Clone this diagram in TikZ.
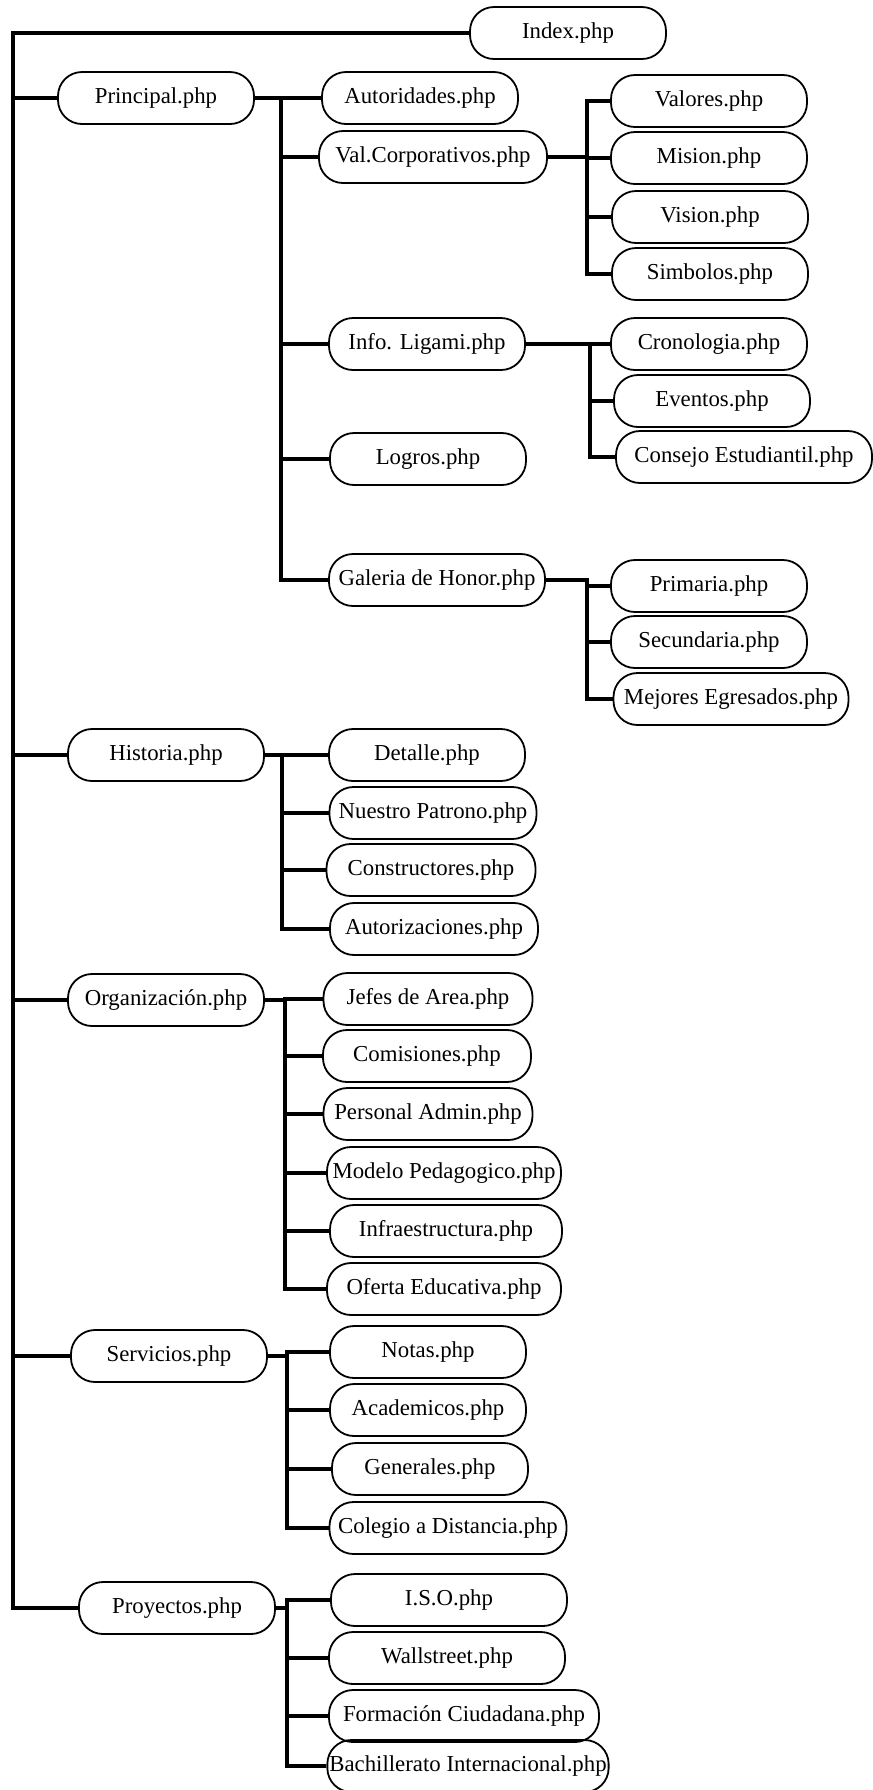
\documentclass[tikz,border=0pt]{standalone}
\usepackage{fontspec}
\setmainfont{Liberation Serif}
\usepackage{tikz}

\begin{document}
\begin{tikzpicture}[x=0.5pt,y=-0.5pt,
  page/.style={draw, rectangle, rounded corners=12pt, minimum width=98pt, minimum height=26pt, inner sep=1pt, line width=0.9pt, font=\fontsize{11.4}{13}\selectfont},
  link/.style={line width=1.6pt}]
\useasboundingbox (0,0) rectangle (873,1790);

\node[page](idx) at (568,33) {Index.php};

\node[page](pri) at (156,98) {Principal.php};
\node[page](aut) at (420,98) {Autoridades.php};
\node[page, minimum width=114pt](val) at (433,157) {Val.Corporativos.php};
\node[page](vlr) at (709,101) {Valores.php};
\node[page](mis) at (709,158) {Mision.php};
\node[page](vis) at (710,217) {Vision.php};
\node[page](sim) at (710,274) {Simbolos.php};
\node[page](inf) at (427,344) {Info. Ligami.php};
\node[page](cro) at (709,344) {Cronologia.php};
\node[page](eve) at (712,401) {Eventos.php};
\node[page, minimum width=128pt](cons) at (744,457) {Consejo Estudiantil.php};
\node[page](log) at (428,459) {Logros.php};
\node[page, minimum width=108pt](gal) at (437,580) {Galeria de Honor.php};
\node[page](prim) at (709,586) {Primaria.php};
\node[page](sec) at (709,642) {Secundaria.php};
\node[page, minimum width=117.5pt](mej) at (731,699) {Mejores Egresados.php};

\node[page](his) at (166,755) {Historia.php};
\node[page](det) at (427,755) {Detalle.php};
\node[page, minimum width=103.5pt](nue) at (433,813) {Nuestro Patrono.php};
\node[page, minimum width=104.5pt](ctr) at (431,870) {Constructores.php};
\node[page, minimum width=104pt](atz) at (434,929) {Autorizaciones.php};

\node[page](org) at (166,1000) {Organización.php};
\node[page, minimum width=104.5pt](jef) at (428,999) {Jefes de Area.php};
\node[page, minimum width=104pt](com) at (427,1056) {Comisiones.php};
\node[page, minimum width=104.5pt](per) at (428,1114) {Personal Admin.php};
\node[page, minimum width=117pt](mod) at (444,1173) {Modelo Pedagogico.php};
\node[page, minimum width=116pt](ifr) at (446,1231) {Infraestructura.php};
\node[page, minimum width=117pt](ofe) at (444,1289) {Oferta Educativa.php};

\node[page](ser) at (169,1356) {Servicios.php};
\node[page](nts) at (428,1352) {Notas.php};
\node[page](aca) at (428,1410) {Academicos.php};
\node[page](gen) at (430,1469) {Generales.php};
\node[page, minimum width=118.5pt](col) at (448,1528) {Colegio a Distancia.php};

\node[page](pro) at (177,1608) {Proyectos.php};
\node[page, minimum width=118pt](iso) at (449,1600) {I.S.O.php};
\node[page, minimum width=118pt](wal) at (447,1658) {Wallstreet.php};
\node[page, minimum width=135pt](frm) at (464,1716) {Formación Ciudadana.php};
\node[page, minimum width=138.5pt](bac) at (468,1766) {Bachillerato Internacional.php};

\coordinate (trk) at (13,33);
\coordinate (pribr) at (281,98);
\coordinate (valbr) at (587,157);
\coordinate (infbr) at (590,344);
\coordinate (galbr) at (587,580);
\coordinate (hisbr) at (282,755);
\coordinate (orgbr) at (285,1000);
\coordinate (serbr) at (287,1356);
\coordinate (probr) at (287,1608);

\draw[link](idx.west) -- (trk) |- (pri.west);
\draw[link](trk) |- (his.west);
\draw[link](trk) |- (org.west);
\draw[link](trk) |- (ser.west);
\draw[link](trk) |- (pro.west);

\draw[link](pri.east) -- (pribr) |- (aut.west);
\draw[link](pribr) |- (val.west);
\draw[link](pribr) |- (inf.west);
\draw[link](pribr) |- (log.west);
\draw[link](pribr) |- (gal.west);

\draw[link](val.east) -- (valbr) |- (vlr.west);
\draw[link](valbr) |- (mis.west);
\draw[link](valbr) |- (vis.west);
\draw[link](valbr) |- (sim.west);

\draw[link](inf.east) -- (infbr) |- (cro.west);
\draw[link](infbr) |- (eve.west);
\draw[link](infbr) |- (cons.west);

\draw[link](gal.east) -- (galbr) |- (prim.west);
\draw[link](galbr) |- (sec.west);
\draw[link](galbr) |- (mej.west);

\draw[link](his.east) -- (hisbr) |- (det.west);
\draw[link](hisbr) |- (nue.west);
\draw[link](hisbr) |- (ctr.west);
\draw[link](hisbr) |- (atz.west);

\draw[link](org.east) -- (orgbr) |- (jef.west);
\draw[link](orgbr) |- (com.west);
\draw[link](orgbr) |- (per.west);
\draw[link](orgbr) |- (mod.west);
\draw[link](orgbr) |- (ifr.west);
\draw[link](orgbr) |- (ofe.west);

\draw[link](ser.east) -- (serbr) |- (nts.west);
\draw[link](serbr) |- (aca.west);
\draw[link](serbr) |- (gen.west);
\draw[link](serbr) |- (col.west);

\draw[link](pro.east) -- (probr) |- (iso.west);
\draw[link](probr) |- (wal.west);
\draw[link](probr) |- (frm.west);
\draw[link](probr) |- (bac.west);
\end{tikzpicture}
\end{document}
